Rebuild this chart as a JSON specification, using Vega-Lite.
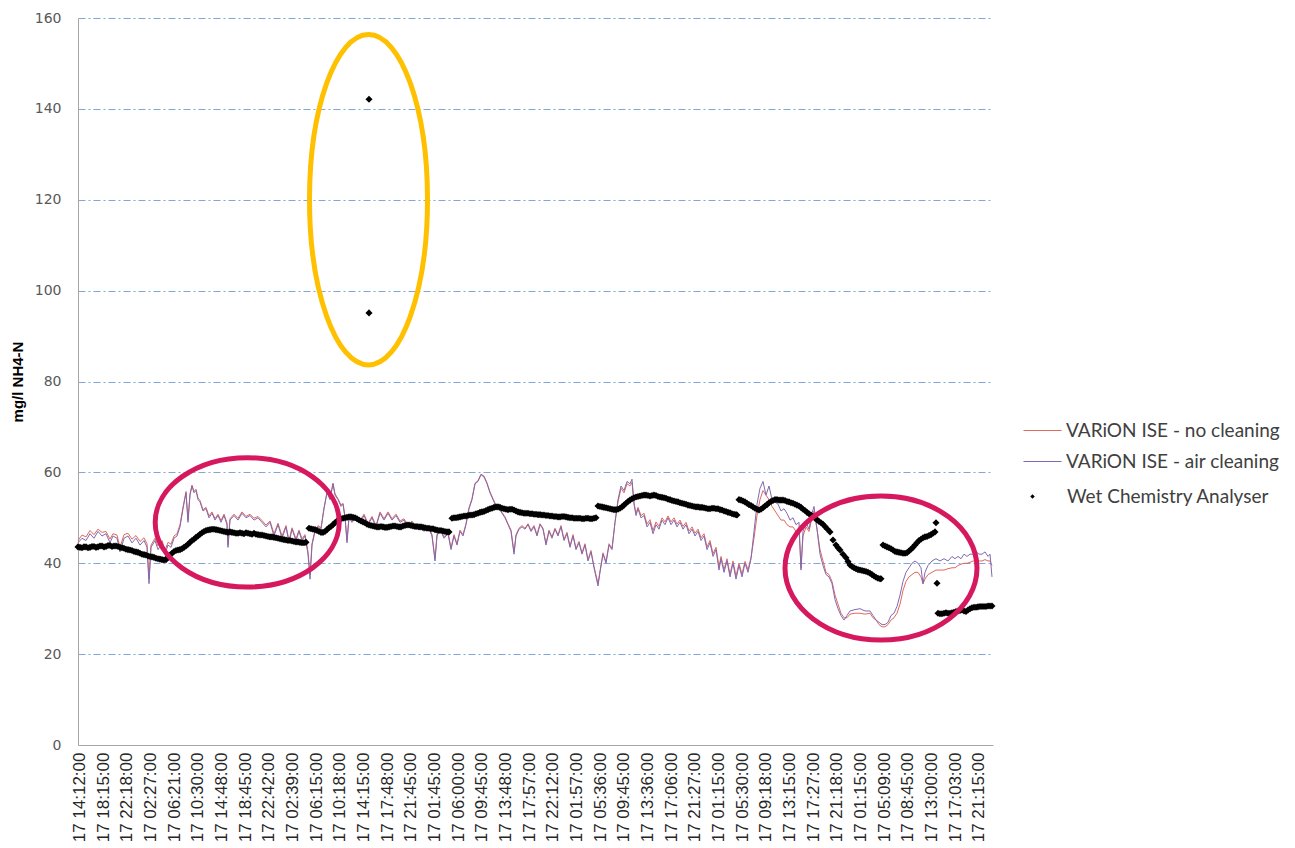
{
"$schema": "https://vega.github.io/schema/vega-lite/v6.json",
"width": 915, "height": 727,
"autosize": {"type": "none"},
"padding": {"left": 78, "top": 18, "right": 302, "bottom": 103},
"background": "white",
"config": {"view": {"stroke": null}, "font": "Liberation Sans", "axisX": {"labelOverlap": false}},
"datasets": {
"ise": [
{"n":0,"no":45,"air":44.5},{"n":4,"no":46.2,"air":45.5},{"n":8,"no":45.8,"air":45},{"n":12,"no":47.2,"air":46.5},{"n":16,"no":46.3,"air":45.5},{"n":20,"no":47.5,"air":47},{"n":24,"no":46.8,"air":46},{"n":28,"no":47,"air":46.5},{"n":32,"no":45.3,"air":44.5},{"n":35,"no":46.5,"air":46},{"n":39,"no":46.2,"air":45.5},{"n":42,"no":43.5,"air":42.5},{"n":46,"no":46.3,"air":45.5},{"n":50,"no":46.6,"air":46},{"n":54,"no":45.3,"air":44.5},{"n":58,"no":46.1,"air":45.5},{"n":62,"no":44.8,"air":44},{"n":66,"no":45.6,"air":45},{"n":69,"no":44.3,"air":43.5},{"n":71,"no":36.5,"air":35.5},{"n":73,"no":44,"air":43.5},{"n":77,"no":45.5,"air":45},{"n":80,"no":43.8,"air":43},{"n":84,"no":45,"air":44.5},{"n":87,"no":42.8,"air":42},{"n":90,"no":44.6,"air":44},{"n":93,"no":44.2,"air":43.5},{"n":96,"no":46,"air":45.5},{"n":99,"no":46.5,"air":46},{"n":102,"no":48.5,"air":48},{"n":105,"no":52.3,"air":52},{"n":108,"no":55.8,"air":55.5},{"n":110,"no":49.5,"air":49},{"n":112,"no":55.3,"air":55},{"n":114,"no":57.2,"air":57},{"n":116,"no":55.8,"air":55.5},{"n":118,"no":56.3,"air":56},{"n":120,"no":54.4,"air":54},{"n":122,"no":53.8,"air":53.5},{"n":125,"no":51.8,"air":51.5},{"n":128,"no":52.3,"air":52},{"n":131,"no":50.4,"air":50},{"n":134,"no":51.3,"air":51},{"n":137,"no":49.8,"air":49.5},{"n":140,"no":50.8,"air":50.5},{"n":143,"no":49.4,"air":49},{"n":146,"no":50.8,"air":50.5},{"n":149,"no":48.9,"air":48.5},{"n":150,"no":44,"air":43.5},{"n":152,"no":49.8,"air":49.5},{"n":156,"no":50.8,"air":50.5},{"n":160,"no":49.9,"air":49.5},{"n":164,"no":51.3,"air":51},{"n":168,"no":50.3,"air":50},{"n":172,"no":50.8,"air":50.5},{"n":176,"no":49.9,"air":49.5},{"n":180,"no":50.3,"air":50},{"n":184,"no":49.4,"air":49},{"n":188,"no":48.4,"air":48},{"n":192,"no":49.3,"air":49},{"n":196,"no":46.5,"air":46},{"n":200,"no":48.8,"air":48.5},{"n":204,"no":46,"air":45.5},{"n":208,"no":48.3,"air":48},{"n":211,"no":45,"air":44.5},{"n":214,"no":47.8,"air":47.5},{"n":218,"no":45.4,"air":45},{"n":221,"no":47.3,"air":47},{"n":224,"no":45.4,"air":45},{"n":227,"no":46.3,"air":46},{"n":230,"no":42.5,"air":42},{"n":232,"no":37.5,"air":36.5},{"n":234,"no":44.3,"air":44},{"n":237,"no":47.3,"air":47},{"n":240,"no":48.3,"air":48},{"n":243,"no":47.8,"air":47.5},{"n":246,"no":52.2,"air":52},{"n":249,"no":55.7,"air":55.5},{"n":252,"no":54.3,"air":54},{"n":255,"no":57.6,"air":57.5},{"n":257,"no":55.3,"air":55},{"n":260,"no":54.2,"air":54},{"n":263,"no":52.8,"air":52.5},{"n":265,"no":53.2,"air":53},{"n":267,"no":50.3,"air":50},{"n":269,"no":45,"air":44.5},{"n":271,"no":50.3,"air":50},{"n":274,"no":49.3,"air":49},{"n":278,"no":50.3,"air":50},{"n":282,"no":49.3,"air":49},{"n":286,"no":50.8,"air":50.5},{"n":290,"no":48.8,"air":48.5},{"n":294,"no":50.3,"air":50},{"n":298,"no":48.3,"air":48},{"n":302,"no":51.3,"air":51},{"n":306,"no":49.8,"air":49.5},{"n":310,"no":51.3,"air":51},{"n":314,"no":49.8,"air":49.5},{"n":318,"no":50.8,"air":50.5},{"n":322,"no":49.3,"air":49},{"n":326,"no":49.8,"air":49.5},{"n":330,"no":48.3,"air":48},{"n":334,"no":49.3,"air":49},{"n":338,"no":47.8,"air":47.5},{"n":342,"no":48.3,"air":48},{"n":346,"no":47.3,"air":47},{"n":350,"no":48.3,"air":48},{"n":354,"no":46.3,"air":46},{"n":357,"no":41,"air":40.5},{"n":359,"no":46.3,"air":46},{"n":362,"no":47.8,"air":47.5},{"n":366,"no":45.8,"air":45.5},{"n":370,"no":46.8,"air":46.5},{"n":373,"no":43.4,"air":43},{"n":376,"no":46.3,"air":46},{"n":379,"no":44.3,"air":44},{"n":382,"no":47.3,"air":47},{"n":385,"no":46.3,"air":46},{"n":388,"no":48.7,"air":48.5},{"n":391,"no":52.2,"air":52},{"n":394,"no":54.2,"air":54},{"n":397,"no":57.6,"air":57.5},{"n":400,"no":58.2,"air":58},{"n":403,"no":59.6,"air":59.5},{"n":406,"no":59.2,"air":59},{"n":409,"no":57.7,"air":57.5},{"n":412,"no":55.7,"air":55.5},{"n":415,"no":54.2,"air":54},{"n":418,"no":52.7,"air":52.5},{"n":421,"no":52.2,"air":52},{"n":424,"no":51.2,"air":51},{"n":427,"no":50.2,"air":50},{"n":430,"no":48.7,"air":48.5},{"n":433,"no":47.3,"air":47},{"n":436,"no":42.5,"air":42},{"n":438,"no":46.3,"air":46},{"n":441,"no":47.7,"air":47.5},{"n":444,"no":48.3,"air":48},{"n":447,"no":47.7,"air":47.5},{"n":450,"no":48.7,"air":48.5},{"n":453,"no":47.3,"air":47},{"n":456,"no":48.3,"air":48},{"n":459,"no":46.3,"air":46},{"n":462,"no":48.7,"air":48.5},{"n":465,"no":47.7,"air":47.5},{"n":468,"no":44.4,"air":44},{"n":471,"no":47.3,"air":47},{"n":474,"no":45.8,"air":45.5},{"n":477,"no":47.7,"air":47.5},{"n":480,"no":46.3,"air":46},{"n":483,"no":48.3,"air":48},{"n":486,"no":45.3,"air":45},{"n":489,"no":46.8,"air":46.5},{"n":492,"no":43.8,"air":43.5},{"n":495,"no":46.3,"air":46},{"n":498,"no":43.3,"air":43},{"n":501,"no":44.8,"air":44.5},{"n":504,"no":42.3,"air":42},{"n":507,"no":44.3,"air":44},{"n":510,"no":40.8,"air":40.5},{"n":513,"no":42.8,"air":42.5},{"n":516,"no":39.3,"air":39},{"n":518,"no":37.4,"air":37},{"n":520,"no":35.5,"air":35},{"n":522,"no":38.3,"air":38},{"n":525,"no":42.3,"air":42},{"n":528,"no":40.3,"air":40},{"n":531,"no":44.3,"air":44},{"n":534,"no":43.3,"air":43},{"n":537,"no":49,"air":49},{"n":540,"no":53.5,"air":54},{"n":543,"no":56.5,"air":57},{"n":546,"no":55.5,"air":56},{"n":549,"no":57.5,"air":58},{"n":552,"no":57,"air":57.5},{"n":554,"no":57.8,"air":58.5},{"n":556,"no":53.3,"air":53},{"n":558,"no":51,"air":50.5},{"n":560,"no":52.3,"air":52},{"n":563,"no":50.5,"air":50},{"n":566,"no":51,"air":50.5},{"n":569,"no":48.6,"air":48},{"n":572,"no":49.6,"air":49},{"n":575,"no":47.2,"air":46.5},{"n":578,"no":49.1,"air":48.5},{"n":581,"no":48.1,"air":47.5},{"n":584,"no":50,"air":49.5},{"n":587,"no":49.1,"air":48.5},{"n":590,"no":50.4,"air":50},{"n":593,"no":49.1,"air":48.5},{"n":596,"no":50,"air":49.5},{"n":599,"no":48.6,"air":48},{"n":602,"no":49.5,"air":49},{"n":605,"no":48.1,"air":47.5},{"n":608,"no":49,"air":48.5},{"n":611,"no":47.1,"air":46.5},{"n":614,"no":48,"air":47.5},{"n":617,"no":46.6,"air":46},{"n":620,"no":47.5,"air":47},{"n":623,"no":45.6,"air":45},{"n":626,"no":46.5,"air":46},{"n":629,"no":43.6,"air":43},{"n":632,"no":45,"air":44.5},{"n":635,"no":42.1,"air":41.5},{"n":638,"no":43.5,"air":43},{"n":641,"no":39.2,"air":38.5},{"n":643,"no":41.5,"air":41},{"n":646,"no":38.6,"air":38},{"n":649,"no":41,"air":40.5},{"n":652,"no":37.6,"air":37},{"n":655,"no":40.5,"air":40},{"n":658,"no":37.2,"air":36.5},{"n":661,"no":40,"air":39.5},{"n":664,"no":37.6,"air":37},{"n":667,"no":40.4,"air":40},{"n":670,"no":38.6,"air":38},{"n":673,"no":41.2,"air":41},{"n":676,"no":45.5,"air":47},{"n":679,"no":50.5,"air":53},{"n":682,"no":54,"air":56.5},{"n":685,"no":56,"air":58},{"n":688,"no":55,"air":55},{"n":691,"no":54,"air":57},{"n":694,"no":52.5,"air":54},{"n":697,"no":51.5,"air":53.5},{"n":700,"no":50.5,"air":53},{"n":703,"no":49.5,"air":51.5},{"n":706,"no":49.5,"air":52},{"n":709,"no":48.5,"air":51},{"n":712,"no":48,"air":49.5},{"n":715,"no":48,"air":50},{"n":718,"no":47,"air":48.5},{"n":721,"no":47.5,"air":49},{"n":723,"no":39,"air":38.5},{"n":725,"no":46,"air":47},{"n":728,"no":48,"air":49},{"n":731,"no":47,"air":47.5},{"n":734,"no":50,"air":51},{"n":736,"no":51.5,"air":52.5},{"n":739,"no":47.5,"air":47.5},{"n":742,"no":43,"air":42},{"n":745,"no":40.5,"air":39.5},{"n":748,"no":38,"air":37.5},{"n":751,"no":37.5,"air":37},{"n":754,"no":36,"air":35.5},{"n":757,"no":33,"air":32},{"n":760,"no":31,"air":30},{"n":763,"no":29,"air":28.5},{"n":766,"no":28,"air":27.5},{"n":769,"no":28,"air":28.5},{"n":772,"no":28.8,"air":29.5},{"n":777,"no":29,"air":29.8},{"n":782,"no":29,"air":30},{"n":787,"no":28.8,"air":29.5},{"n":792,"no":29,"air":29.5},{"n":795,"no":28,"air":28.5},{"n":798,"no":27.5,"air":27.5},{"n":801,"no":26.5,"air":27},{"n":804,"no":26,"air":26.5},{"n":807,"no":26,"air":26.5},{"n":810,"no":26.5,"air":27},{"n":813,"no":27.5,"air":28.5},{"n":816,"no":28,"air":29},{"n":819,"no":29,"air":30.5},{"n":822,"no":31,"air":33},{"n":825,"no":34,"air":36},{"n":828,"no":36,"air":38},{"n":831,"no":37,"air":39},{"n":834,"no":37.5,"air":40},{"n":837,"no":38,"air":40.5},{"n":840,"no":38,"air":40},{"n":843,"no":37,"air":39},{"n":845,"no":35.5,"air":35.5},{"n":847,"no":36.5,"air":38},{"n":850,"no":37.5,"air":39.5},{"n":854,"no":38,"air":40.5},{"n":858,"no":38.5,"air":41},{"n":862,"no":38.5,"air":40.5},{"n":866,"no":38.5,"air":41},{"n":870,"no":38.8,"air":40.5},{"n":874,"no":39,"air":41.5},{"n":877,"no":39,"air":41},{"n":880,"no":39.5,"air":41.5},{"n":883,"no":39.8,"air":41},{"n":886,"no":40,"air":42},{"n":889,"no":40,"air":41.5},{"n":892,"no":40.2,"air":42},{"n":895,"no":40.5,"air":42},{"n":898,"no":40.5,"air":42.5},{"n":901,"no":40.5,"air":42},{"n":904,"no":40.5,"air":42},{"n":907,"no":40.8,"air":42.5},{"n":910,"no":40.5,"air":41.5},{"n":912,"no":40.5,"air":42},{"n":914,"no":39.5,"air":37}
],
"wet": [
{"n":0,"v":43.6},{"n":2,"v":43.5},{"n":4,"v":43.4},{"n":6,"v":43.6},{"n":8,"v":43.6},{"n":10,"v":43.4},{"n":12,"v":43.5},{"n":14,"v":43.7},{"n":16,"v":43.7},{"n":18,"v":43.5},{"n":20,"v":43.6},{"n":22,"v":43.8},{"n":24,"v":43.8},{"n":26,"v":43.6},{"n":28,"v":43.7},{"n":30,"v":43.9},{"n":32,"v":43.9},{"n":34,"v":43.7},{"n":36,"v":43.8},{"n":38,"v":43.8},{"n":40,"v":43.7},{"n":42,"v":43.5},{"n":44,"v":43.4},{"n":46,"v":43.3},{"n":48,"v":43.1},{"n":50,"v":43},{"n":52,"v":42.9},{"n":54,"v":42.8},{"n":56,"v":42.6},{"n":58,"v":42.5},{"n":60,"v":42.4},{"n":62,"v":42.2},{"n":64,"v":42},{"n":66,"v":41.9},{"n":68,"v":41.8},{"n":70,"v":41.6},{"n":72,"v":41.5},{"n":74,"v":41.4},{"n":76,"v":41.3},{"n":78,"v":41.1},{"n":80,"v":41},{"n":82,"v":40.9},{"n":84,"v":40.8},{"n":86,"v":40.7},{"n":88,"v":40.8},{"n":90,"v":41.3},{"n":92,"v":41.8},{"n":94,"v":42.2},{"n":96,"v":42.6},{"n":98,"v":42.8},{"n":100,"v":42.9},{"n":102,"v":43},{"n":104,"v":43.2},{"n":106,"v":43.5},{"n":108,"v":43.8},{"n":110,"v":44.2},{"n":112,"v":44.6},{"n":114,"v":45},{"n":116,"v":45.3},{"n":118,"v":45.7},{"n":120,"v":46},{"n":122,"v":46.4},{"n":124,"v":46.7},{"n":126,"v":47},{"n":128,"v":47.2},{"n":130,"v":47.3},{"n":132,"v":47.4},{"n":134,"v":47.5},{"n":136,"v":47.5},{"n":138,"v":47.4},{"n":140,"v":47.3},{"n":142,"v":47.2},{"n":144,"v":47.1},{"n":146,"v":47},{"n":148,"v":46.9},{"n":150,"v":46.8},{"n":152,"v":46.9},{"n":154,"v":46.8},{"n":156,"v":46.7},{"n":158,"v":46.6},{"n":160,"v":46.6},{"n":162,"v":46.7},{"n":164,"v":46.6},{"n":166,"v":46.5},{"n":168,"v":46.7},{"n":170,"v":46.6},{"n":172,"v":46.5},{"n":174,"v":46.4},{"n":176,"v":46.6},{"n":178,"v":46.4},{"n":180,"v":46.3},{"n":182,"v":46.2},{"n":184,"v":46.2},{"n":186,"v":46.1},{"n":188,"v":46},{"n":190,"v":45.9},{"n":192,"v":45.8},{"n":194,"v":45.8},{"n":196,"v":45.7},{"n":198,"v":45.6},{"n":200,"v":45.5},{"n":202,"v":45.4},{"n":204,"v":45.3},{"n":206,"v":45.2},{"n":208,"v":45.1},{"n":210,"v":45},{"n":212,"v":45},{"n":214,"v":44.9},{"n":216,"v":44.8},{"n":218,"v":44.7},{"n":220,"v":44.7},{"n":222,"v":44.6},{"n":224,"v":44.5},{"n":226,"v":44.5},{"n":228,"v":44.6},
{"n":231,"v":47.7},{"n":233,"v":47.6},{"n":235,"v":47.5},{"n":237,"v":47.4},{"n":239,"v":47.2},{"n":241,"v":47},{"n":243,"v":46.8},{"n":245,"v":46.8},{"n":247,"v":47},{"n":249,"v":47.4},{"n":251,"v":47.8},{"n":253,"v":48.1},{"n":255,"v":48.5},{"n":257,"v":48.9},{"n":259,"v":49.3},{"n":261,"v":49.6},{"n":263,"v":49.8},{"n":265,"v":49.9},{"n":267,"v":50},{"n":269,"v":50.1},{"n":271,"v":50.2},{"n":273,"v":50.2},{"n":275,"v":50.1},{"n":277,"v":50},{"n":279,"v":49.8},{"n":281,"v":49.5},{"n":283,"v":49.3},{"n":285,"v":49.1},{"n":287,"v":48.9},{"n":289,"v":48.6},{"n":291,"v":48.4},{"n":293,"v":48.3},{"n":295,"v":48.2},{"n":297,"v":48.1},{"n":299,"v":48},{"n":301,"v":48},{"n":303,"v":48.1},{"n":305,"v":48},{"n":307,"v":47.9},{"n":309,"v":47.9},{"n":311,"v":48},{"n":313,"v":48.1},{"n":315,"v":48.2},{"n":317,"v":48.2},{"n":319,"v":48.1},{"n":321,"v":48},{"n":323,"v":48},{"n":325,"v":48.2},{"n":327,"v":48.3},{"n":329,"v":48.4},{"n":331,"v":48.4},{"n":333,"v":48.3},{"n":335,"v":48.2},{"n":337,"v":48.1},{"n":339,"v":48.1},{"n":341,"v":48},{"n":343,"v":48},{"n":345,"v":47.9},{"n":347,"v":47.8},{"n":349,"v":47.7},{"n":351,"v":47.7},{"n":353,"v":47.6},{"n":355,"v":47.6},{"n":357,"v":47.4},{"n":359,"v":47.3},{"n":361,"v":47.2},{"n":363,"v":47.2},{"n":365,"v":47.1},{"n":367,"v":47},{"n":369,"v":46.9},{"n":371,"v":46.9},
{"n":374,"v":49.9},{"n":376,"v":50},{"n":378,"v":50},{"n":380,"v":50.1},{"n":382,"v":50.2},{"n":384,"v":50.3},{"n":386,"v":50.4},{"n":388,"v":50.4},{"n":390,"v":50.5},{"n":392,"v":50.6},{"n":394,"v":50.6},{"n":396,"v":50.7},{"n":398,"v":50.9},{"n":400,"v":51},{"n":402,"v":51.2},{"n":404,"v":51.3},{"n":406,"v":51.4},{"n":408,"v":51.6},{"n":410,"v":51.8},{"n":412,"v":52},{"n":414,"v":52.1},{"n":416,"v":52.3},{"n":418,"v":52.4},{"n":420,"v":52.4},{"n":422,"v":52.3},{"n":424,"v":52.1},{"n":426,"v":52},{"n":428,"v":51.9},{"n":430,"v":51.8},{"n":432,"v":51.9},{"n":434,"v":51.9},{"n":436,"v":51.7},{"n":438,"v":51.5},{"n":440,"v":51.3},{"n":442,"v":51.2},{"n":444,"v":51.1},{"n":446,"v":51},{"n":448,"v":51},{"n":450,"v":51},{"n":452,"v":50.9},{"n":454,"v":50.9},{"n":456,"v":50.8},{"n":458,"v":50.8},{"n":460,"v":50.7},{"n":462,"v":50.7},{"n":464,"v":50.6},{"n":466,"v":50.6},{"n":468,"v":50.5},{"n":470,"v":50.5},{"n":472,"v":50.4},{"n":474,"v":50.4},{"n":476,"v":50.3},{"n":478,"v":50.3},{"n":480,"v":50.2},{"n":482,"v":50.2},{"n":484,"v":50.3},{"n":486,"v":50.3},{"n":488,"v":50.2},{"n":490,"v":50.1},{"n":492,"v":50},{"n":494,"v":50},{"n":496,"v":49.9},{"n":498,"v":49.9},{"n":500,"v":49.9},{"n":502,"v":49.9},{"n":504,"v":49.8},{"n":506,"v":49.8},{"n":508,"v":49.9},{"n":510,"v":49.9},{"n":512,"v":49.8},{"n":514,"v":49.8},{"n":516,"v":49.9},{"n":518,"v":50},
{"n":520,"v":52.6},{"n":522,"v":52.5},{"n":524,"v":52.4},{"n":526,"v":52.3},{"n":528,"v":52.2},{"n":530,"v":52.1},{"n":532,"v":52},{"n":534,"v":51.9},{"n":536,"v":51.8},{"n":538,"v":51.8},{"n":540,"v":51.9},{"n":542,"v":52.1},{"n":544,"v":52.4},{"n":546,"v":52.8},{"n":548,"v":53.2},{"n":550,"v":53.6},{"n":552,"v":53.9},{"n":554,"v":54.2},{"n":556,"v":54.4},{"n":558,"v":54.6},{"n":560,"v":54.7},{"n":562,"v":54.8},{"n":564,"v":54.9},{"n":566,"v":55},{"n":568,"v":55},{"n":570,"v":54.9},{"n":572,"v":54.8},{"n":574,"v":54.9},{"n":576,"v":55},{"n":578,"v":54.9},{"n":580,"v":54.7},{"n":582,"v":54.6},{"n":584,"v":54.5},{"n":586,"v":54.4},{"n":588,"v":54.3},{"n":590,"v":54.1},{"n":592,"v":54},{"n":594,"v":53.8},{"n":596,"v":53.7},{"n":598,"v":53.6},{"n":600,"v":53.5},{"n":602,"v":53.3},{"n":604,"v":53.2},{"n":606,"v":53.1},{"n":608,"v":53},{"n":610,"v":52.8},{"n":612,"v":52.7},{"n":614,"v":52.6},{"n":616,"v":52.5},{"n":618,"v":52.4},{"n":620,"v":52.4},{"n":622,"v":52.3},{"n":624,"v":52.3},{"n":626,"v":52.2},{"n":628,"v":52.1},{"n":630,"v":52},{"n":632,"v":52},{"n":634,"v":52.1},{"n":636,"v":52.1},{"n":638,"v":52},{"n":640,"v":52},{"n":642,"v":51.8},{"n":644,"v":51.7},{"n":646,"v":51.5},{"n":648,"v":51.4},{"n":650,"v":51.2},{"n":652,"v":51.1},{"n":654,"v":50.9},{"n":656,"v":50.8},{"n":658,"v":50.7},{"n":659,"v":50.6},
{"n":661,"v":54},{"n":663,"v":53.9},{"n":665,"v":53.7},{"n":667,"v":53.5},{"n":669,"v":53.2},{"n":671,"v":52.9},{"n":673,"v":52.7},{"n":675,"v":52.4},{"n":677,"v":52.1},{"n":679,"v":51.9},{"n":681,"v":51.7},{"n":683,"v":51.9},{"n":685,"v":52.2},{"n":687,"v":52.6},{"n":689,"v":52.9},{"n":691,"v":53.3},{"n":693,"v":53.6},{"n":695,"v":53.8},{"n":697,"v":54},{"n":699,"v":54},{"n":701,"v":53.9},{"n":703,"v":53.9},{"n":705,"v":53.9},{"n":707,"v":53.8},{"n":709,"v":53.6},{"n":711,"v":53.5},{"n":713,"v":53.3},{"n":715,"v":53.2},{"n":717,"v":53},{"n":719,"v":52.8},{"n":721,"v":52.6},{"n":723,"v":52.3},{"n":725,"v":51.9},{"n":727,"v":51.6},{"n":729,"v":51.2},{"n":731,"v":50.9},{"n":733,"v":50.6},{"n":735,"v":50.3},{"n":737,"v":49.9},{"n":739,"v":49.6},{"n":741,"v":49.2},{"n":743,"v":48.9},{"n":745,"v":48.6},{"n":747,"v":48.1},{"n":749,"v":47.6},{"n":752,"v":46.9},{"n":755,"v":45.1},{"n":758,"v":44},{"n":760,"v":43.4},{"n":762,"v":42.9},{"n":765,"v":42},{"n":768,"v":41.2},{"n":770,"v":40.4},{"n":772,"v":39.6},{"n":774,"v":39.3},{"n":776,"v":39},{"n":778,"v":38.8},{"n":780,"v":38.6},{"n":782,"v":38.5},{"n":784,"v":38.4},{"n":786,"v":38.3},{"n":788,"v":38.2},{"n":790,"v":38},{"n":792,"v":37.8},{"n":794,"v":37.5},{"n":796,"v":37.2},{"n":798,"v":36.9},{"n":800,"v":36.7},{"n":802,"v":36.6},{"n":803,"v":36.6},
{"n":805,"v":44},{"n":807,"v":43.8},{"n":809,"v":43.6},{"n":811,"v":43.4},{"n":813,"v":43.2},{"n":815,"v":42.9},{"n":817,"v":42.6},{"n":819,"v":42.5},{"n":821,"v":42.4},{"n":823,"v":42.3},{"n":825,"v":42.2},{"n":827,"v":42.2},{"n":829,"v":42.3},{"n":831,"v":42.7},{"n":833,"v":43.1},{"n":835,"v":43.5},{"n":837,"v":44},{"n":839,"v":44.5},{"n":841,"v":45},{"n":843,"v":45.3},{"n":845,"v":45.6},{"n":847,"v":45.8},{"n":849,"v":45.9},{"n":851,"v":46.1},{"n":853,"v":46.3},{"n":855,"v":46.6},{"n":857,"v":46.9},
{"n":858,"v":48.9},{"n":859,"v":35.6},
{"n":860,"v":29},{"n":862,"v":28.9},{"n":864,"v":28.9},{"n":866,"v":29},{"n":868,"v":29.1},{"n":870,"v":29},{"n":872,"v":29},{"n":874,"v":29.1},{"n":876,"v":29.2},{"n":878,"v":29.4},{"n":880,"v":29.5},{"n":882,"v":29.6},{"n":884,"v":29.7},{"n":886,"v":29.5},{"n":888,"v":29.4},{"n":890,"v":29.7},{"n":892,"v":30},{"n":894,"v":30.2},{"n":896,"v":30.3},{"n":898,"v":30.3},{"n":900,"v":30.4},{"n":902,"v":30.5},{"n":904,"v":30.5},{"n":906,"v":30.5},{"n":908,"v":30.5},{"n":910,"v":30.6},{"n":912,"v":30.6},{"n":914,"v":30.6},
{"n":291,"v":142.1},{"n":291,"v":95.1}
],
"notes": [
{"id":"gold","n":290.5,"v":120},
{"id":"left","n":169.2,"v":49},
{"id":"right","n":803,"v":38.95}
]
},
"encoding": {
"x": {"field": "n", "type": "quantitative", "scale": {"domain": [0, 915], "nice": false, "zero": false},
"axis": {"title": null, "values": [1,25,48,72,96,119,143,167,190,214,238,261,285,309,332,356,380,403,427,451,474,498,522,545,569,593,616,640,664,687,711,735,758,782,806,829,853,877,900],
"labelExpr": "['17 14:12:00','17 18:15:00','17 22:18:00','17 02:27:00','17 06:21:00','17 10:30:00','17 14:48:00','17 18:45:00','17 22:42:00','17 02:39:00','17 06:15:00','17 10:18:00','17 14:15:00','17 17:48:00','17 21:45:00','17 01:45:00','17 06:00:00','17 09:45:00','17 13:48:00','17 17:57:00','17 22:12:00','17 01:57:00','17 05:36:00','17 09:45:00','17 13:36:00','17 17:06:00','17 21:27:00','17 01:15:00','17 05:30:00','17 09:18:00','17 13:15:00','17 17:27:00','17 21:18:00','17 01:15:00','17 05:09:00','17 08:45:00','17 13:00:00','17 17:03:00','17 21:15:00'][round((datum.value-1)/23.67)]",
"ticks": false, "tickSize": 0, "grid": false, "domainColor": "#A6A6A6", "domainWidth": 1,
"labelAngle": -90, "labelAlign": "right", "labelBaseline": "middle", "labelPadding": 7,
"labelFont": "Liberation Sans", "labelFontSize": 17, "labelColor": "#262626",
"labelOverlap": false, "labelFlush": false, "labelBound": false, "labelSeparation": 0}},
"y": {"field": "v", "type": "quantitative", "scale": {"domain": [0, 160], "nice": false},
"axis": {"title": "mg/l NH4-N", "titleFont": "Liberation Sans", "titleFontSize": 15, "titleFontWeight": "bold", "titleColor": "#000000", "titlePadding": 9,
"values": [0,20,40,60,80,100,120,140,160], "ticks": false, "tickSize": 0,
"domainColor": "#A6A6A6", "domainWidth": 1,
"grid": true, "gridColor": "#7FA7DC", "gridDash": [7,3,2,3], "gridWidth": 1,
"labelFont": "DejaVu Sans", "labelFontSize": 14, "labelColor": "#595959", "labelPadding": 17}}
},
"layer": [
{
"data": {"name": "ise"},
"transform": [{"fold": ["no", "air"], "as": ["s", "v"]}],
"mark": {"type": "line", "strokeWidth": 1},
"encoding": {
"color": {"field": "s", "type": "nominal",
"scale": {"domain": ["no", "air"], "range": ["#E0685C", "#8069B0"]},
"legend": {"orient": "none", "legendX": 955, "legendY": 403, "title": null, "padding": 0,
"symbolType": "M -2.5,0 H 2.5", "symbolSize": 231, "symbolStrokeWidth": 1.2,
"labelFont": "Lato", "labelFontSize": 19, "labelColor": "#404040", "labelOffset": 14, "labelLimit": 400,
"rowPadding": 11,
"labelExpr": "datum.value == 'no' ? 'VARiON ISE - no cleaning' : 'VARiON ISE - air cleaning'"}}
}
},
{
"data": {"name": "wet"},
"mark": {"type": "point", "filled": true, "size": 50, "color": "#000000", "opacity": 1},
"encoding": {
"shape": {"datum": "Wet Chemistry Analyser", "scale": {"range": ["diamond"]},
"legend": {"orient": "none", "legendX": 945, "legendY": 469, "title": null, "padding": 0,
"symbolSize": 20, "labelFont": "Lato", "labelFontSize": 19, "labelColor": "#404040", "labelOffset": 25, "labelLimit": 400,
"encode": {"symbols": {"fill": {"value": "#C8C8C8"}, "stroke": {"value": "#7F7F7F"}, "strokeWidth": {"value": 1}}}}}
}
},
{
"data": {"name": "notes"},
"transform": [{"filter": "datum.id == 'gold'"}],
"mark": {"type": "point", "shape": "M -1,0 A 1,2.8 0 1,1 1,0 A 1,2.8 0 1,1 -1,0", "size": 13924, "filled": false, "stroke": "#FFC000", "strokeWidth": 5, "opacity": 1}
},
{
"data": {"name": "notes"},
"transform": [{"filter": "datum.id == 'left'"}],
"mark": {"type": "point", "shape": "M -1,0 A 1,0.703 0 1,1 1,0 A 1,0.703 0 1,1 -1,0", "size": 33856, "filled": false, "stroke": "#D6195E", "strokeWidth": 5, "opacity": 1}
},
{
"data": {"name": "notes"},
"transform": [{"filter": "datum.id == 'right'"}],
"mark": {"type": "point", "shape": "M -1,0 A 1,0.75 0 1,1 1,0 A 1,0.75 0 1,1 -1,0", "size": 36864, "filled": false, "stroke": "#D6195E", "strokeWidth": 5, "opacity": 1}
}
]
}
